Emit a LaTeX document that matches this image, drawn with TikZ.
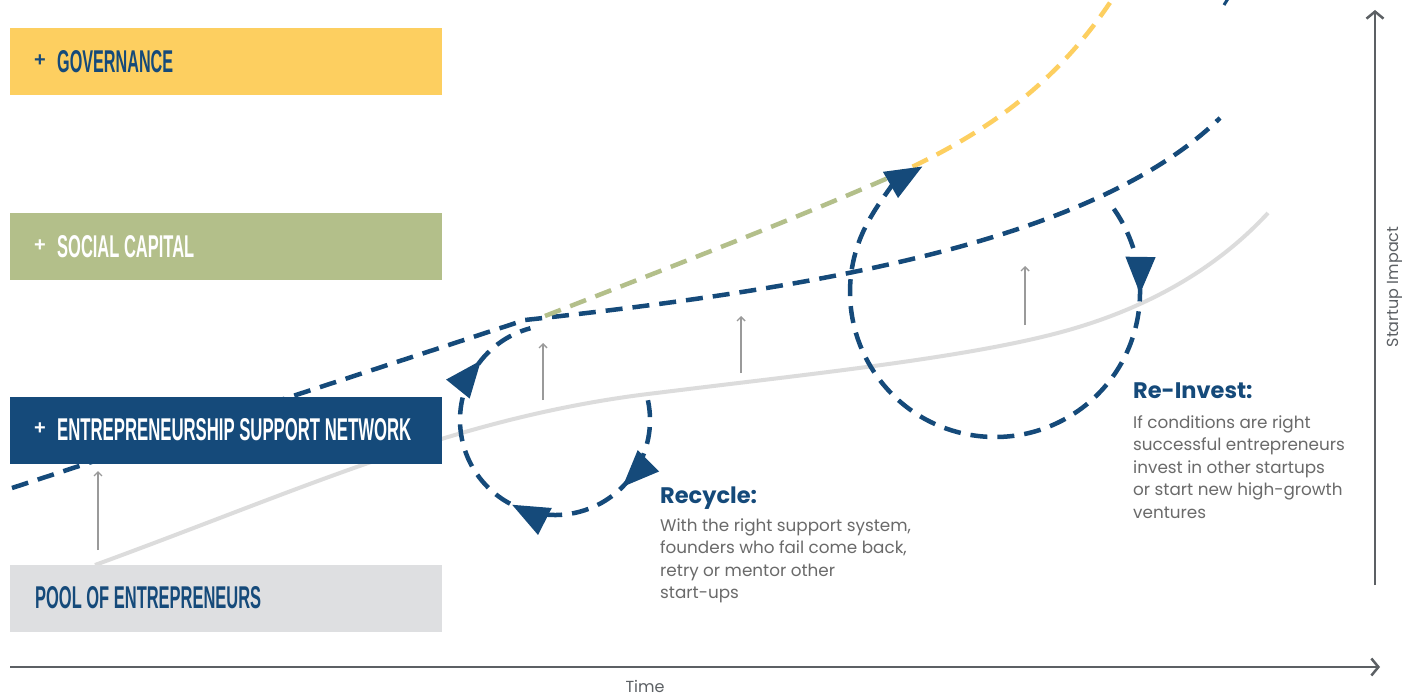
\documentclass[tikz,border=0pt]{standalone}
\usepackage{fontspec}
\setmainfont{Poppins}
\newfontfamily\labfont{Liberation Sans}
\usetikzlibrary{arrows.meta,decorations.markings}
\definecolor{navy}{HTML}{154A7A}
\definecolor{gold}{HTML}{FDCF60}
\definecolor{sage}{HTML}{B3BF8A}
\definecolor{boxgray}{HTML}{DEDFE1}
\definecolor{curvegray}{HTML}{DCDCDC}
\definecolor{axisgray}{HTML}{5C6064}
\definecolor{txtgray}{HTML}{6A6A6A}
\definecolor{thingray}{HTML}{9A9A9A}
\tikzset{
  dashline/.style={line width=4.5pt, dash pattern=on 17pt off 10pt},
  bar/.style={minimum width=432pt, minimum height=67pt, inner sep=0pt, anchor=north west, draw=none},
  lab/.style={anchor=west, inner sep=0pt, font=\labfont\bfseries},
  plus/.style={anchor=center, inner sep=0pt, font=\labfont\bfseries\fontsize{20}{20}\selectfont},
  garrow/.style={draw=thingray, line width=1.4pt, -{Straight Barb[length=4pt,width=8pt]}},
  axis/.style={draw=axisgray, line width=2.5pt, -{Straight Barb[length=7pt,width=17pt]}},
  bigtri/.tip={Triangle[length=37pt,width=29pt]},
  ttl/.style={anchor=base west, inner sep=0pt, text=navy, font=\fontsize{22.5}{26}\selectfont\bfseries},
  body/.style={anchor=base west, inner sep=0pt, text=txtgray, font=\fontsize{16.8}{20}\selectfont},
  axlab/.style={inner sep=0pt, text=axisgray, font=\fontsize{16}{18}\selectfont}
}
\begin{document}
\begin{tikzpicture}[x=1pt,y=-1pt]
\clip (0,0) rectangle (1402,695);
\fill[white] (0,0) rectangle (1402,695);
% base curve
\draw[curvegray, line width=4pt] (95,565) .. controls (300,490) and (450,420) .. (640,395) .. controls (800,375) and (950,360) .. (1050,335) .. controls (1150,310) and (1220,265) .. (1268,213);
% support network line
\draw[dashline, navy] (12,488) -- (525,320) .. controls (800,290) and (1090,245) .. (1220,118);
\draw[navy, line width=3pt] (1224,5) -- (1229,-3);
% social capital / governance lines
\draw[dashline, sage] (545,316) .. controls (650,275) and (780,225) .. (888,178);
\draw[dashline, gold] (888,178) .. controls (990,133) and (1060,80) .. (1115,-5);
% bars
\node[bar, fill=gold] (gov) at (10,28) {};
\node[bar, fill=sage] (soc) at (10,213) {};
\node[bar, fill=navy] (esn) at (10,397) {};
\node[bar, fill=boxgray] (pool) at (10,565) {};
\node[plus, text=navy] (govp) at (40,61) {+};
\node[lab, text=navy] (govt) at (57,62) {\resizebox{116pt}{22pt}{GOVERNANCE}};
\node[plus, text=white] (socp) at (40,246) {+};
\node[lab, text=white] (soct) at (57,247) {\resizebox{137pt}{22pt}{SOCIAL CAPITAL}};
\node[plus, text=white] (esnp) at (40,429) {+};
\node[lab, text=white] (esnt) at (57,430) {\resizebox{354pt}{22pt}{ENTREPRENEURSHIP SUPPORT NETWORK}};
\node[lab, text=navy] (poolt) at (35,598) {\resizebox{226pt}{22pt}{POOL OF ENTREPRENEURS}};
% small gray arrows
\coordinate (g1s) at (98,550); \coordinate (g1e) at (98,471);
\coordinate (g2s) at (543,400); \coordinate (g2e) at (543,343);
\coordinate (g3s) at (741,373); \coordinate (g3e) at (741,316);
\coordinate (g4s) at (1025,325); \coordinate (g4e) at (1025,266);
\draw[garrow] (g1s) -- (g1e);
\draw[garrow] (g2s) -- (g2e);
\draw[garrow] (g3s) -- (g3e);
\draw[garrow] (g4s) -- (g4e);
% recycle loop
\draw[dashline, navy, postaction={decorate}, decoration={markings,
   mark=at position 0.213 with {\arrow{bigtri}},
   mark=at position 0.483 with {\arrow{bigtri}},
   mark=at position 0.865 with {\arrow{bigtri}}}]
   (555,420) ++(-12:95) arc[start angle=-12, end angle=255, radius=95];
% reinvest loop
\draw[dashline, navy, -{bigtri}, postaction={decorate}, decoration={markings,
   mark=at position 0.13 with {\arrow{bigtri}}}]
   (995,292) ++(-35:145) arc[start angle=-35, end angle=240, radius=145];
% texts
\node[ttl] (rct) at (660,503) {Recycle:};
\node[body] (rc1) at (660,531) {With the right support system,};
\node[body] (rc2) at (660,553.5) {founders who fail come back,};
\node[body] (rc3) at (660,576) {retry or mentor other};
\node[body] (rc4) at (660,598.5) {start-ups};
\node[ttl] (rit) at (1133,398) {Re-Invest:};
\node[body] (ri1) at (1133,428) {If conditions are right};
\node[body] (ri2) at (1133,450.5) {successful entrepreneurs};
\node[body] (ri3) at (1133,473) {invest in other startups};
\node[body] (ri4) at (1133,495.5) {or start new high-growth};
\node[body] (ri5) at (1133,518) {ventures};
% axes
\coordinate (hx0) at (10,667); \coordinate (hx1) at (1380,667);
\coordinate (vy0) at (1375,585); \coordinate (vy1) at (1375,10);
\draw[axis] (hx0) -- (hx1);
\draw[axis] (vy0) -- (vy1);
\node[axlab, anchor=base] (time) at (645,692) {Time};
\node[axlab, rotate=90] (imp) at (1395,287) {Startup Impact};
\end{tikzpicture}
\end{document}
